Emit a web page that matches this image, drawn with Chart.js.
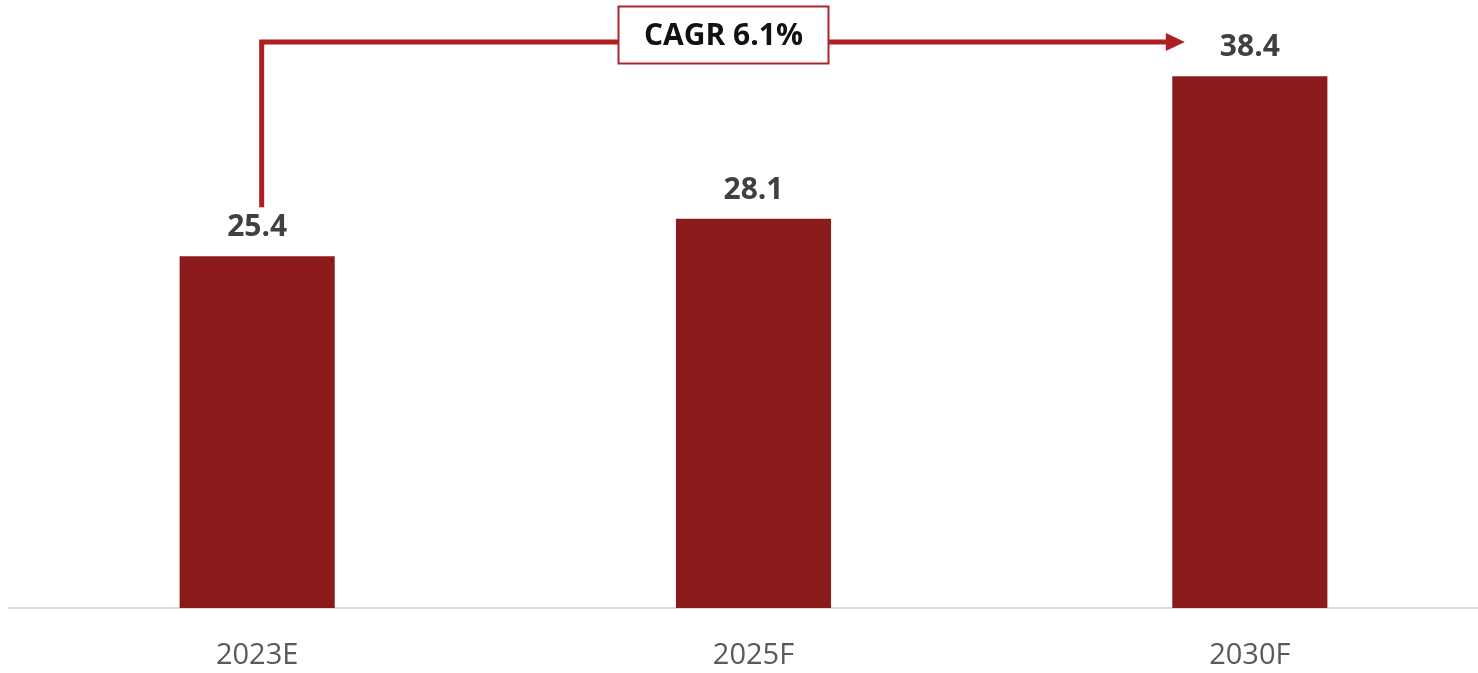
<!DOCTYPE html>
<html>
<head>
<meta charset="utf-8">
<title>Market size 2023E-2030F</title>
<script src="https://cdn.jsdelivr.net/npm/chart.js@4.4.0/dist/chart.umd.min.js"></script>
<style>
  html, body { margin: 0; padding: 0; background: #ffffff; overflow: hidden; }
  /* plot runs a little past the right edge, like the original */
  #wrap { position: relative; width: 1500px; height: 673px; }
</style>
</head>
<body>
<div id="wrap"><canvas id="marketChart"></canvas></div>
<script>
// chart data
const categories = ["2023E", "2025F", "2030F"];
const marketValues = [25.4, 28.1, 38.4];
const cagrLabel = "CAGR 6.1%";

const barColor = "#8b1a1b";
const arrowColor = "#b01e25";

// value labels above the bars
const valueLabels = {
  id: "valueLabels",
  afterDatasetsDraw(chart) {
    const ctx = chart.ctx;
    const meta = chart.getDatasetMeta(0);
    ctx.save();
    ctx.font = "bold 30px 'Open Sans'";
    ctx.fillStyle = "#404040";
    ctx.textAlign = "center";
    ctx.textBaseline = "alphabetic";
    meta.data.forEach((bar, i) => {
      ctx.fillText(marketValues[i].toFixed(1), bar.x, bar.y - 20);
    });
    ctx.restore();
  }
};

// CAGR elbow arrow from first bar to last bar
const cagrArrow = {
  id: "cagrArrow",
  afterDraw(chart) {
    const ctx = chart.ctx;
    const bars = chart.getDatasetMeta(0).data;
    const first = bars[0];
    const last = bars[bars.length - 1];
    const mid = bars[1];
    const lineY = chart.chartArea.top - 12;
    const startX = first.x + 4.5;
    const startY = first.y - 49;
    const tipX = last.x - 65;

    ctx.save();
    ctx.strokeStyle = arrowColor;
    ctx.lineWidth = 5;
    ctx.lineJoin = "miter";
    ctx.beginPath();
    ctx.moveTo(startX, startY);
    ctx.lineTo(startX, lineY);
    ctx.lineTo(tipX - 16, lineY);
    ctx.stroke();

    // arrow head
    ctx.fillStyle = arrowColor;
    ctx.beginPath();
    ctx.moveTo(tipX, lineY);
    ctx.lineTo(tipX - 19, lineY - 9);
    ctx.lineTo(tipX - 19, lineY + 9);
    ctx.closePath();
    ctx.fill();

    // label box
    const boxW = 210, boxH = 57;
    const boxX = mid.x - 30 - boxW / 2;
    const boxY = 6.5;
    ctx.fillStyle = "#ffffff";
    ctx.fillRect(boxX, boxY, boxW, boxH);
    ctx.strokeStyle = "#a8272d";
    ctx.lineWidth = 2;
    ctx.strokeRect(boxX, boxY, boxW, boxH);

    ctx.font = "bold 30px 'Open Sans'";
    ctx.fillStyle = "#111111";
    ctx.textAlign = "center";
    ctx.textBaseline = "middle";
    ctx.fillText(cagrLabel, boxX + boxW / 2, boxY + boxH / 2 + 1);
    ctx.restore();
  }
};

new Chart(document.getElementById("marketChart"), {
  type: "bar",
  data: {
    labels: categories,
    datasets: [{
      data: marketValues,
      backgroundColor: barColor,
      barPercentage: 0.625,
      categoryPercentage: 0.5
    }]
  },
  options: {
    responsive: true,
    maintainAspectRatio: false,
    animation: false,
    layout: { padding: { top: 54, left: 9, right: 2, bottom: 0 } },
    plugins: {
      legend: { display: false },
      tooltip: { enabled: false }
    },
    scales: {
      x: {
        grid: { display: false, drawTicks: false },
        border: { display: true, color: "#d9d9d9", width: 2 },
        ticks: {
          color: "#595959",
          font: { family: "'Open Sans'", size: 29 },
          padding: 30
        },
        afterFit(scale) { scale.height = 65; }
      },
      y: {
        display: false,
        min: 0,
        max: 40
      }
    }
  },
  plugins: [valueLabels, cagrArrow]
});
</script>
</body>
</html>
